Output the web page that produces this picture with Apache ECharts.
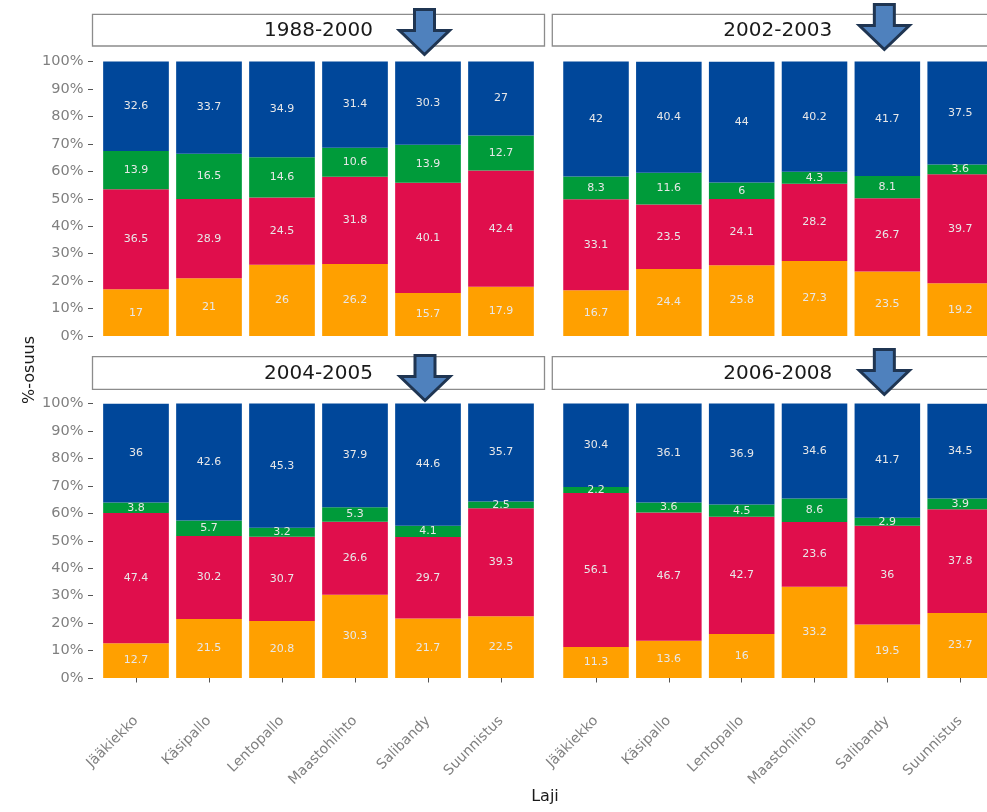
<!DOCTYPE html>
<html>
<head>
<meta charset="utf-8">
<script src="https://cdn.jsdelivr.net/npm/echarts@6/dist/echarts.min.js"></script>
<style>
html,body{margin:0;padding:0;background:#fff;overflow:hidden;width:987px;height:812px;}
#main{width:1010px;height:812px;}
</style>
</head>
<body>
<div id="main"></div>
<script>
const categories = ['Jääkiekko','Käsipallo','Lentopallo','Maastohiihto','Salibandy','Suunnistus'];
const periods = ['1988-2000','2002-2003','2004-2005','2006-2008'];
const yTicks = [0,10,20,30,40,50,60,70,80,90,100];
const yAxisTitle = '%-osuus';
const xAxisTitle = 'Laji';
const highlighted = 'Salibandy';

// 1988-2000
const p1Orange = [17, 21, 26, 26.2, 15.7, 17.9];
const p1Red    = [36.5, 28.9, 24.5, 31.8, 40.1, 42.4];
const p1Green  = [13.9, 16.5, 14.6, 10.6, 13.9, 12.7];
const p1Blue   = [32.6, 33.7, 34.9, 31.4, 30.3, 27];
// 2002-2003
const p2Orange = [16.7, 24.4, 25.8, 27.3, 23.5, 19.2];
const p2Red    = [33.1, 23.5, 24.1, 28.2, 26.7, 39.7];
const p2Green  = [8.3, 11.6, 6, 4.3, 8.1, 3.6];
const p2Blue   = [42, 40.4, 44, 40.2, 41.7, 37.5];
// 2004-2005
const p3Orange = [12.7, 21.5, 20.8, 30.3, 21.7, 22.5];
const p3Red    = [47.4, 30.2, 30.7, 26.6, 29.7, 39.3];
const p3Green  = [3.8, 5.7, 3.2, 5.3, 4.1, 2.5];
const p3Blue   = [36, 42.6, 45.3, 37.9, 44.6, 35.7];
// 2006-2008
const p4Orange = [11.3, 13.6, 16, 33.2, 19.5, 23.7];
const p4Red    = [56.1, 46.7, 42.7, 23.6, 36, 37.8];
const p4Green  = [2.2, 3.6, 4.5, 8.6, 2.9, 3.9];
const p4Blue   = [30.4, 36.1, 36.9, 34.6, 41.7, 34.5];

const panels = [
  [p1Orange, p1Red, p1Green, p1Blue],
  [p2Orange, p2Red, p2Green, p2Blue],
  [p3Orange, p3Red, p3Green, p3Blue],
  [p4Orange, p4Red, p4Green, p4Blue]
];
const colors = ['#FFA000', '#E00E4C', '#009B3A', '#00479A'];
const FONT = 'DejaVu Sans';

const gridBoxes = [
  {left: 99.5, top: 61.5, width: 438, height: 274.5},
  {left: 559.6, top: 61.5, width: 437, height: 274.5},
  {left: 99.5, top: 403.5, width: 438, height: 274.5},
  {left: 559.6, top: 403.5, width: 437, height: 274.5}
];

const xAxes = gridBoxes.map((g, i) => ({
  type: 'category',
  gridIndex: i,
  data: categories,
  show: i >= 2,
  offset: 13.7,
  axisLine: {show: false},
  axisTick: {show: true, length: 4.5, alignWithLabel: true, lineStyle: {color: '#555', width: 1}},
  axisLabel: {rotate: 45, margin: 27, color: '#808080', fontSize: 14, fontFamily: FONT},
  splitLine: {show: false}
}));

const yAxes = gridBoxes.map((g, i) => ({
  type: 'value',
  gridIndex: i,
  min: yTicks[0],
  max: yTicks[yTicks.length - 1],
  interval: yTicks[1] - yTicks[0],
  show: i % 2 === 0,
  offset: 6.5,
  axisLine: {show: false},
  axisTick: {show: true, length: 5, lineStyle: {color: '#555', width: 1}},
  axisLabel: {formatter: '{value}%', margin: 9.5, color: '#808080', fontSize: 14.5, fontFamily: FONT},
  splitLine: {show: false}
}));

const series = [];
panels.forEach((arrs, pi) => {
  arrs.forEach((vals, si) => {
    series.push({
      type: 'bar',
      xAxisIndex: pi,
      yAxisIndex: pi,
      stack: 'panel' + pi,
      barWidth: '90%',
      data: vals,
      itemStyle: {color: colors[si]},
      label: {
        show: true,
        position: 'inside',
        color: '#e8e8e8',
        fontSize: 11,
        fontFamily: FONT,
        formatter: p => String(p.value)
      },
      emphasis: {disabled: true},
      animation: false
    });
  });
});

const chart = echarts.init(document.getElementById('main'), null, {renderer: 'canvas', width: 1010, height: 812});
chart.setOption({
  animation: false,
  backgroundColor: '#fff',
  grid: gridBoxes.map(g => Object.assign({containLabel: false}, g)),
  xAxis: xAxes,
  yAxis: yAxes,
  series: series
});

// annotations: strips, axis titles, arrows
const strips = [
  {x: 92.5, y: 14.3, w: 452, h: 31.7},
  {x: 552.3, y: 14.3, w: 451, h: 31.7},
  {x: 92.5, y: 356.7, w: 452, h: 32.6},
  {x: 552.3, y: 356.7, w: 451, h: 32.6}
];
const graphic = [];
strips.forEach((s, i) => {
  graphic.push({
    type: 'rect', z: 50,
    shape: {x: s.x, y: s.y, width: s.w, height: s.h},
    style: {fill: '#fff', stroke: '#8c8c8c', lineWidth: 1.3}
  });
  graphic.push({
    type: 'text', z: 51,
    x: s.x + s.w / 2, y: s.y + s.h / 2 + 0.5,
    style: {text: periods[i], fill: '#1a1a1a', fontSize: 20, fontFamily: FONT, align: 'center', verticalAlign: 'middle'}
  });
});
graphic.push({
  type: 'text', z: 51, x: 30, y: 370, rotation: Math.PI / 2,
  style: {text: yAxisTitle, fill: '#1a1a1a', fontSize: 16, fontFamily: FONT, align: 'center', verticalAlign: 'middle'}
});
graphic.push({
  type: 'text', z: 51, x: 545, y: 797,
  style: {text: xAxisTitle, fill: '#1a1a1a', fontSize: 16, fontFamily: FONT, align: 'center', verticalAlign: 'middle'}
});

const arrowNudge = [[-3.5, -5], [-3, -10], [-3, -1], [-3, -7]];
const hiIdx = categories.indexOf(highlighted);
gridBoxes.forEach((g, i) => {
  const pt = chart.convertToPixel({gridIndex: i}, [hiIdx, 100]);
  const tx = pt[0] + arrowNudge[i][0];
  const ty = pt[1] + arrowNudge[i][1];
  graphic.push({
    type: 'polygon', z: 100,
    shape: {points: [
      [tx - 10, ty - 47], [tx + 10, ty - 47], [tx + 10, ty - 26], [tx + 25, ty - 26],
      [tx, ty - 2], [tx - 25, ty - 26], [tx - 10, ty - 26]
    ]},
    style: {fill: '#4F81BD', stroke: '#1F3552', lineWidth: 3, lineJoin: 'miter'}
  });
});
chart.setOption({graphic: graphic});
</script>
</body>
</html>
